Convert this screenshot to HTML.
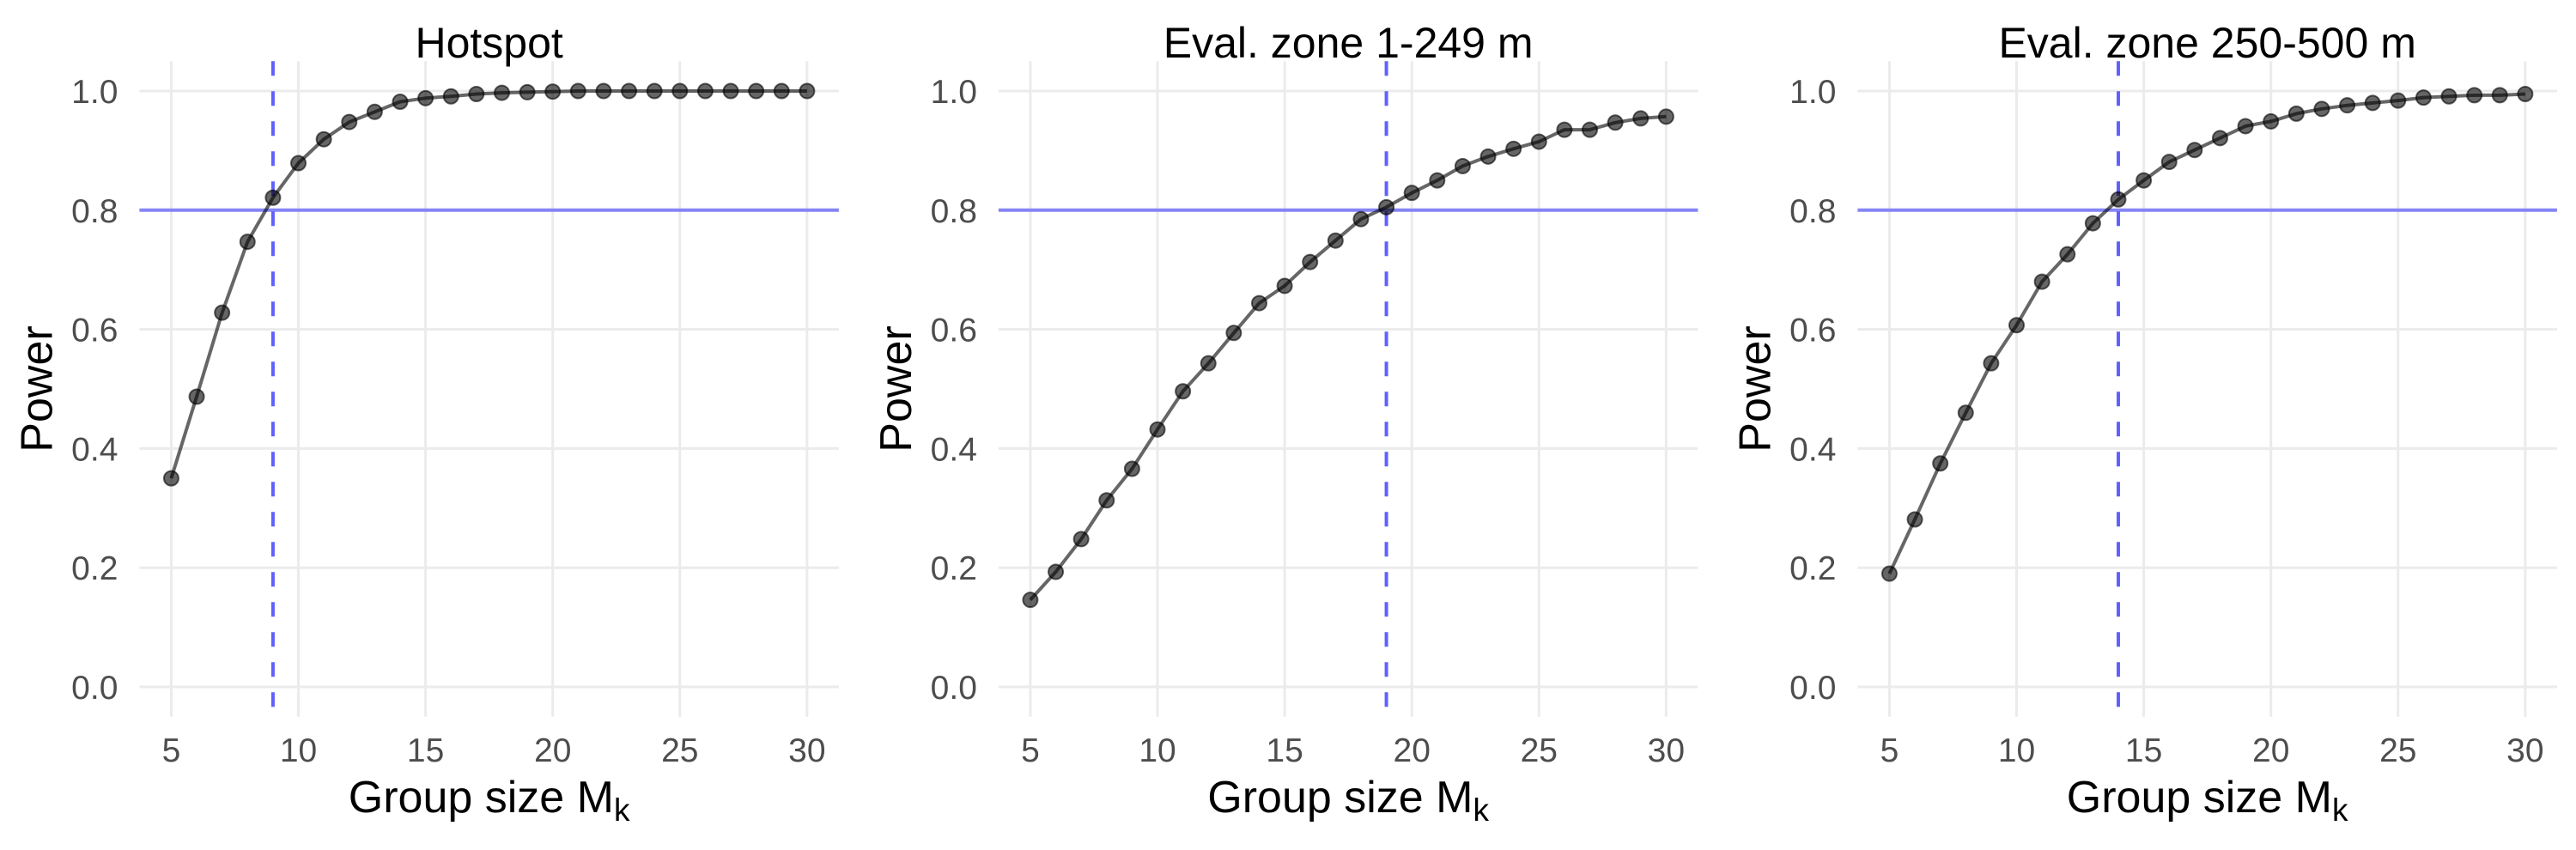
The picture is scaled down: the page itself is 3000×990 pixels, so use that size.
<!DOCTYPE html>
<html><head><meta charset="utf-8">
<style>
html,body{margin:0;padding:0;background:#fff;}
svg{display:block;font-family:"Liberation Sans",Arial,sans-serif;}
</style></head>
<body>
<svg id="chart" width="3000" height="990" viewBox="0 0 3000 990" xmlns="http://www.w3.org/2000/svg"></svg>
<script>
const groupSizes = [5,6,7,8,9,10,11,12,13,14,15,16,17,18,19,20,21,22,23,24,25,26,27,28,29,30];
const hotspotPower = [0.35,0.487,0.628,0.747,0.821,0.879,0.919,0.948,0.965,0.982,0.988,0.991,0.995,0.997,0.998,0.999,1.0,1.0,1.0,1.0,1.0,1.0,1.0,1.0,1.0,1.0];
const zone1Power = [0.146,0.193,0.248,0.313,0.366,0.432,0.496,0.543,0.594,0.644,0.673,0.713,0.749,0.785,0.805,0.829,0.850,0.874,0.890,0.903,0.915,0.935,0.935,0.947,0.954,0.957];
const zone2Power = [0.190,0.281,0.375,0.460,0.543,0.607,0.680,0.726,0.778,0.818,0.850,0.881,0.901,0.921,0.941,0.949,0.962,0.970,0.976,0.980,0.984,0.989,0.991,0.993,0.993,0.995];
const panelTitles = ["Hotspot","Eval. zone 1-249 m","Eval. zone 250-500 m"];
const thresholdSizes = [9,19,14];
const powerTarget = 0.8;
const xTicks = [5,10,15,20,25,30];
const yTicks = [0,0.2,0.4,0.6,0.8,1.0];
const yTickLabels = ["0.0","0.2","0.4","0.6","0.8","1.0"];

const NS = "http://www.w3.org/2000/svg";
const svg = document.getElementById('chart');
function mk(tag, attrs, parent){
  const e = document.createElementNS(NS, tag);
  for (const k in attrs) e.setAttribute(k, attrs[k]);
  parent.appendChild(e);
  return e;
}
const allSeries = [hotspotPower, zone1Power, zone2Power];
const xMin = 5, xMax = 30, pad = 1.25;
const PW = 814.5;
const yTop = 71.3, yBot = 834.7;

allSeries.forEach((series, p) => {
  const left = 162.4 + p*1000.5;
  const right = left + PW;
  const xs = v => left + (v - (xMin - pad)) / ((xMax + pad) - (xMin - pad)) * (right - left);
  const ys = v => yBot - (v + 0.05) / 1.1 * (yBot - yTop);

  const g = mk('g', {}, svg);
  
  

  const grid = mk('g', {}, g);
  
  
  xTicks.forEach(t => {
    const l = mk('line', {x1:xs(t), x2:xs(t), y1:yTop, y2:yBot, stroke:'#ebebeb', 'stroke-width':3}, grid);
    
    
  });
  yTicks.forEach(t => {
    const l = mk('line', {x1:left, x2:right, y1:ys(t), y2:ys(t), stroke:'#ebebeb', 'stroke-width':3}, grid);
    
    
  });

  const hl = mk('line', {x1:left, x2:right, y1:ys(powerTarget), y2:ys(powerTarget), stroke:'#8585f5', 'stroke-width':4}, g);
  
  

  const vx = xs(thresholdSizes[p]);
  const vl = mk('line', {x1:vx, x2:vx, y1:yTop, y2:yBot, stroke:'#6060ff', 'stroke-width':4, 'stroke-dasharray':'17 18'}, g);
  
  

  const pts = groupSizes.map((x,i) => xs(x).toFixed(1) + ',' + ys(series[i]).toFixed(1)).join(' ');
  const line = mk('polyline', {points:pts, fill:'none', stroke:'#000', 'stroke-opacity':0.6, 'stroke-width':4, 'stroke-linejoin':'round'}, g);
  
  

  groupSizes.forEach((x,i) => {
    const c = mk('circle', {cx:xs(x), cy:ys(series[i]), r:8.5, fill:'rgba(0,0,0,0.6)', stroke:'rgba(0,0,0,0.6)', 'stroke-width':2}, g);
    
    
  });

  xTicks.forEach(t => {
    const tx = mk('text', {x:xs(t), y:887, 'text-anchor':'middle', 'font-size':39, fill:'#4d4d4d'}, g);
    
    
    tx.textContent = t;
  });
  yTicks.forEach((t,i) => {
    const tx = mk('text', {x:left-25, y:ys(t)+14, 'text-anchor':'end', 'font-size':39, fill:'#4d4d4d'}, g);
    
    
    tx.textContent = yTickLabels[i];
  });

  const cx = (left + right) / 2;
  const title = mk('text', {x:cx, y:67, 'text-anchor':'middle', 'font-size':50, fill:'#000'}, g);
  
  
  title.textContent = panelTitles[p];

  const xt = mk('text', {x:cx, y:946, 'text-anchor':'middle', 'font-size':52, fill:'#000'}, g);
  
  
  xt.appendChild(document.createTextNode('Group size M'));
  const sub = mk('tspan', {'font-size':37, dy:10}, xt);
  sub.textContent = 'k';

  const yx = left - 119, yy = (yTop + yBot) / 2;
  const yt = mk('text', {x:yx, y:yy, 'text-anchor':'middle', 'dominant-baseline':'central', 'font-size':52, fill:'#000', transform:'rotate(-90 ' + yx + ' ' + yy + ')'}, g);
  
  
  yt.textContent = 'Power';
});
</script>
</body></html>
